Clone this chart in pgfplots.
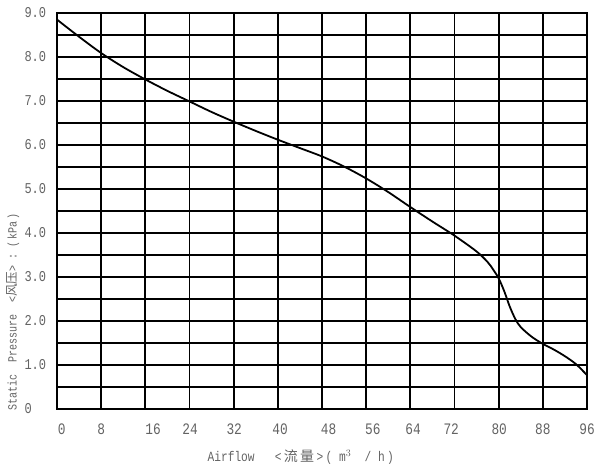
\documentclass[border=0pt]{standalone}
\usepackage{fontspec}
\setmainfont{Liberation Mono}[FakeStretch=0.8]
\newfontfamily\cjk{Noto Sans CJK SC}
\usepackage{pgfplots}
\pgfplotsset{compat=1.18}
\definecolor{lbl}{HTML}{636363}

\begin{document}
\begin{tikzpicture}
\begin{axis}[
    at={(0,0)}, anchor=south west,
    scale only axis,
    width=530pt, height=396pt,
    xmin=0, xmax=96, ymin=0, ymax=9,
    xtick={0,8,...,96}, xticklabels={},
    extra x ticks={0.85,8,17.4,24.1,32.1,40.4,49.2,57.2,64.5,71.4,80.1,88,96},
    extra x tick labels={0,8,16,24,32,40,48,56,64,72,80,88,96},
    extra x tick style={grid=none},
    ytick={0,1,...,9},
    yticklabels={0,1.0,2.0,3.0,4.0,5.0,6.0,7.0,8.0,9.0},
    minor ytick={0.5,1.5,...,8.5},
    grid=both,
    major grid style={black, line width=1.8pt},
    minor grid style={black, line width=1.8pt},
    axis line style={black, line width=1.8pt},
    major tick length=0pt, minor tick length=0pt,
    tick label style={lbl, font=\fontsize{15}{15}\selectfont},
    xticklabel style={yshift=-11pt, font=\fontsize{16}{16}\selectfont},
    yticklabel style={anchor=west, xshift=-36pt},
    xlabel={Airflow\ \ \ <\,{\cjk 流\,量}\,>\,(\ m$^3$\ \ /\ h\,)},
    ylabel={Static\ \ Pressure\ \ <{\cjk 风压}> :\ (\,kPa\,)},
    label style={lbl, font=\fontsize{14}{14}\selectfont},
    xlabel style={at={(axis description cs:0.46,-0.121)}, anchor=center},
    ylabel style={at={(axis description cs:-0.083,0.245)}, anchor=center,
        font=\fontsize{12.5}{12.5}\selectfont},
]
\addplot[black, line width=1.8pt, smooth] coordinates {
    (0,8.85) (4,8.46) (8,8.09) (12,7.77) (16,7.49) (20,7.23) (24,6.99)
    (28,6.75) (32,6.53) (36,6.32) (40,6.12) (44,5.93) (48,5.74) (52,5.51)
    (56,5.24) (60,4.93) (64,4.59) (68,4.26) (72,3.94) (76,3.58) (78,3.34)
    (79,3.17) (80,2.97) (81,2.68) (82,2.33) (83,2.05) (84,1.86) (86,1.64)
    (88,1.48) (90,1.35) (92,1.20) (94,1.02) (96,0.77)
};
\end{axis}
\pgfresetboundingbox
\path (-57pt,-61pt) rectangle (550pt,409pt);
\end{tikzpicture}
\end{document}
